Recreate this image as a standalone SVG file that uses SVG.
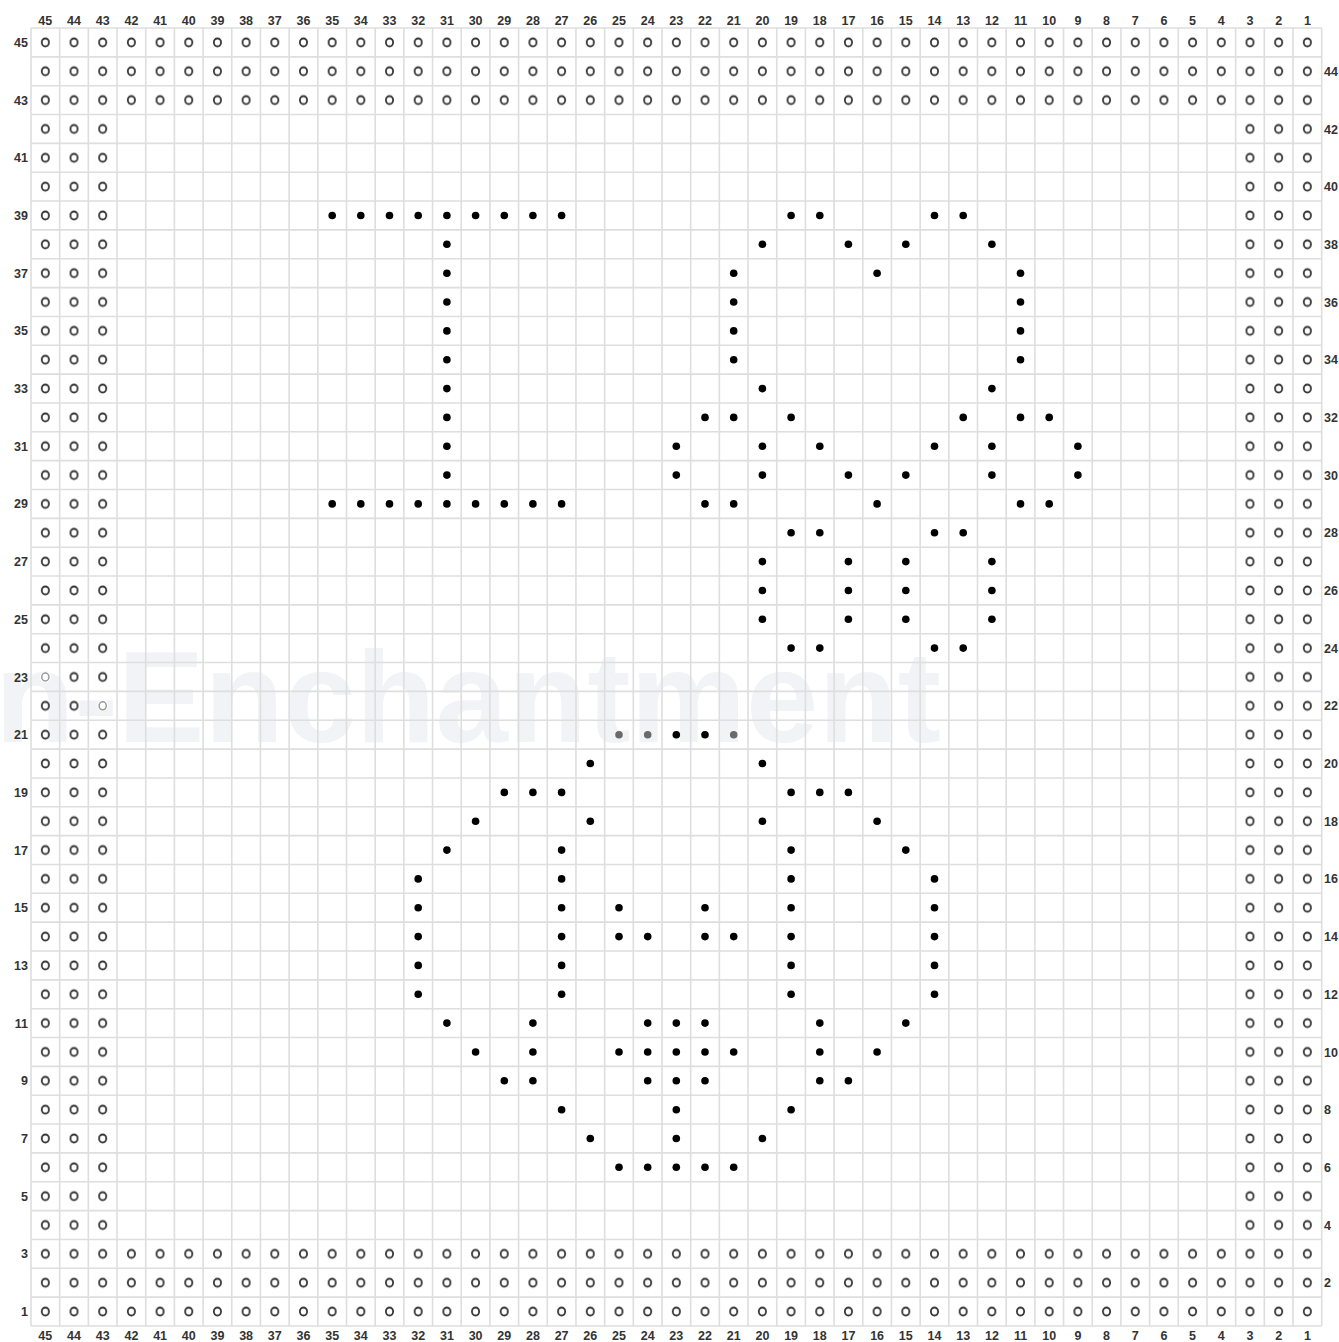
<svg xmlns="http://www.w3.org/2000/svg" xmlns:xlink="http://www.w3.org/1999/xlink" width="1339" height="1342" viewBox="0 0 1339 1342">
<style>
.lb{font-family:"Liberation Sans",Arial,sans-serif;font-size:12.5px;font-weight:bold;fill:#333}
.tc{text-anchor:middle}
.le{text-anchor:end}
.wm{font-family:"Liberation Sans",Arial,sans-serif;font-size:130px;font-weight:bold;fill:#f1f3f6}
.grid{fill:none;stroke:#dedede;stroke-width:1.6}
</style>
<defs>
<pattern id="oc" patternUnits="userSpaceOnUse" x="31" y="28" width="28.682" height="28.844">
<ellipse cx="14.341" cy="14.422" rx="3.6" ry="4" fill="none" stroke="#333" stroke-width="1.8"/>
</pattern>
<circle id="d" cx="0" cy="0" r="3.8" fill="#000"/>
<circle id="g" cx="0" cy="0" r="3.8" fill="#6a6a6a"/>
</defs>
<rect width="1339" height="1342" fill="#fff"/>
<text class="wm" x="-5" y="742">n-Enchantment</text>
<g id="grid">
<path class="grid" d="M31 28V1326M59.68 28V1326M88.36 28V1326M117.05 28V1326M145.73 28V1326M174.41 28V1326M203.09 28V1326M231.77 28V1326M260.46 28V1326M289.14 28V1326M317.82 28V1326M346.5 28V1326M375.18 28V1326M403.87 28V1326M432.55 28V1326M461.23 28V1326M489.91 28V1326M518.59 28V1326M547.28 28V1326M575.96 28V1326M604.64 28V1326M633.32 28V1326M662 28V1326M690.69 28V1326M719.37 28V1326M748.05 28V1326M776.73 28V1326M805.41 28V1326M834.1 28V1326M862.78 28V1326M891.46 28V1326M920.14 28V1326M948.82 28V1326M977.51 28V1326M1006.19 28V1326M1034.87 28V1326M1063.55 28V1326M1092.23 28V1326M1120.92 28V1326M1149.6 28V1326M1178.28 28V1326M1206.96 28V1326M1235.64 28V1326M1264.33 28V1326M1293.01 28V1326M1321.69 28V1326
M31 28H1321.69M31 56.84H1321.69M31 85.69H1321.69M31 114.53H1321.69M31 143.38H1321.69M31 172.22H1321.69M31 201.06H1321.69M31 229.91H1321.69M31 258.75H1321.69M31 287.6H1321.69M31 316.44H1321.69M31 345.28H1321.69M31 374.13H1321.69M31 402.97H1321.69M31 431.82H1321.69M31 460.66H1321.69M31 489.5H1321.69M31 518.35H1321.69M31 547.19H1321.69M31 576.04H1321.69M31 604.88H1321.69M31 633.72H1321.69M31 662.57H1321.69M31 691.41H1321.69M31 720.26H1321.69M31 749.1H1321.69M31 777.94H1321.69M31 806.79H1321.69M31 835.63H1321.69M31 864.48H1321.69M31 893.32H1321.69M31 922.16H1321.69M31 951.01H1321.69M31 979.85H1321.69M31 1008.7H1321.69M31 1037.54H1321.69M31 1066.38H1321.69M31 1095.23H1321.69M31 1124.07H1321.69M31 1152.92H1321.69M31 1181.76H1321.69M31 1210.6H1321.69M31 1239.45H1321.69M31 1268.29H1321.69M31 1297.14H1321.69M31 1325.98H1321.69"/>
</g>
<g id="border-stitches">
<rect x="31" y="28" width="1290.69" height="86.53" fill="url(#oc)"/>
<rect x="31" y="1239.45" width="1290.69" height="86.53" fill="url(#oc)"/>
<rect x="31" y="114.53" width="86.05" height="1124.92" fill="url(#oc)"/>
<rect x="1235.64" y="114.53" width="86.05" height="1124.92" fill="url(#oc)"/>
<ellipse cx="45.34" cy="676.99" rx="5.5" ry="6" fill="#fff"/>
<ellipse cx="45.34" cy="676.99" rx="3.6" ry="4" fill="none" stroke="#9a9a9a" stroke-width="1.5"/>
<ellipse cx="102.7" cy="705.83" rx="5.5" ry="6" fill="#fff"/>
<ellipse cx="102.7" cy="705.83" rx="3.6" ry="4" fill="none" stroke="#9a9a9a" stroke-width="1.5"/>
</g>
<g id="motif">
<use href="#d" x="332.2" y="215.5"/><use href="#d" x="360.8" y="215.5"/><use href="#d" x="389.5" y="215.5"/><use href="#d" x="418.2" y="215.5"/><use href="#d" x="446.9" y="215.5"/><use href="#d" x="475.6" y="215.5"/><use href="#d" x="504.3" y="215.5"/><use href="#d" x="532.9" y="215.5"/><use href="#d" x="561.6" y="215.5"/><use href="#d" x="791.1" y="215.5"/><use href="#d" x="819.8" y="215.5"/><use href="#d" x="934.5" y="215.5"/><use href="#d" x="963.2" y="215.5"/>
<use href="#d" x="446.9" y="244.3"/><use href="#d" x="762.4" y="244.3"/><use href="#d" x="848.4" y="244.3"/><use href="#d" x="905.8" y="244.3"/><use href="#d" x="991.9" y="244.3"/>
<use href="#d" x="446.9" y="273.2"/><use href="#d" x="733.7" y="273.2"/><use href="#d" x="877.1" y="273.2"/><use href="#d" x="1020.5" y="273.2"/>
<use href="#d" x="446.9" y="302"/><use href="#d" x="733.7" y="302"/><use href="#d" x="1020.5" y="302"/>
<use href="#d" x="446.9" y="330.9"/><use href="#d" x="733.7" y="330.9"/><use href="#d" x="1020.5" y="330.9"/>
<use href="#d" x="446.9" y="359.7"/><use href="#d" x="733.7" y="359.7"/><use href="#d" x="1020.5" y="359.7"/>
<use href="#d" x="446.9" y="388.6"/><use href="#d" x="762.4" y="388.6"/><use href="#d" x="991.9" y="388.6"/>
<use href="#d" x="446.9" y="417.4"/><use href="#d" x="705" y="417.4"/><use href="#d" x="733.7" y="417.4"/><use href="#d" x="791.1" y="417.4"/><use href="#d" x="963.2" y="417.4"/><use href="#d" x="1020.5" y="417.4"/><use href="#d" x="1049.2" y="417.4"/>
<use href="#d" x="446.9" y="446.2"/><use href="#d" x="676.3" y="446.2"/><use href="#d" x="762.4" y="446.2"/><use href="#d" x="819.8" y="446.2"/><use href="#d" x="934.5" y="446.2"/><use href="#d" x="991.9" y="446.2"/><use href="#d" x="1077.9" y="446.2"/>
<use href="#d" x="446.9" y="475.1"/><use href="#d" x="676.3" y="475.1"/><use href="#d" x="762.4" y="475.1"/><use href="#d" x="848.4" y="475.1"/><use href="#d" x="905.8" y="475.1"/><use href="#d" x="991.9" y="475.1"/><use href="#d" x="1077.9" y="475.1"/>
<use href="#d" x="332.2" y="503.9"/><use href="#d" x="360.8" y="503.9"/><use href="#d" x="389.5" y="503.9"/><use href="#d" x="418.2" y="503.9"/><use href="#d" x="446.9" y="503.9"/><use href="#d" x="475.6" y="503.9"/><use href="#d" x="504.3" y="503.9"/><use href="#d" x="532.9" y="503.9"/><use href="#d" x="561.6" y="503.9"/><use href="#d" x="705" y="503.9"/><use href="#d" x="733.7" y="503.9"/><use href="#d" x="877.1" y="503.9"/><use href="#d" x="1020.5" y="503.9"/><use href="#d" x="1049.2" y="503.9"/>
<use href="#d" x="791.1" y="532.8"/><use href="#d" x="819.8" y="532.8"/><use href="#d" x="934.5" y="532.8"/><use href="#d" x="963.2" y="532.8"/>
<use href="#d" x="762.4" y="561.6"/><use href="#d" x="848.4" y="561.6"/><use href="#d" x="905.8" y="561.6"/><use href="#d" x="991.9" y="561.6"/>
<use href="#d" x="762.4" y="590.5"/><use href="#d" x="848.4" y="590.5"/><use href="#d" x="905.8" y="590.5"/><use href="#d" x="991.9" y="590.5"/>
<use href="#d" x="762.4" y="619.3"/><use href="#d" x="848.4" y="619.3"/><use href="#d" x="905.8" y="619.3"/><use href="#d" x="991.9" y="619.3"/>
<use href="#d" x="791.1" y="648.1"/><use href="#d" x="819.8" y="648.1"/><use href="#d" x="934.5" y="648.1"/><use href="#d" x="963.2" y="648.1"/>
<use href="#g" x="619" y="734.7"/><use href="#g" x="647.7" y="734.7"/><use href="#d" x="676.3" y="734.7"/><use href="#d" x="705" y="734.7"/><use href="#g" x="733.7" y="734.7"/>
<use href="#d" x="590.3" y="763.5"/><use href="#d" x="762.4" y="763.5"/>
<use href="#d" x="504.3" y="792.4"/><use href="#d" x="532.9" y="792.4"/><use href="#d" x="561.6" y="792.4"/><use href="#d" x="791.1" y="792.4"/><use href="#d" x="819.8" y="792.4"/><use href="#d" x="848.4" y="792.4"/>
<use href="#d" x="475.6" y="821.2"/><use href="#d" x="590.3" y="821.2"/><use href="#d" x="762.4" y="821.2"/><use href="#d" x="877.1" y="821.2"/>
<use href="#d" x="446.9" y="850.1"/><use href="#d" x="561.6" y="850.1"/><use href="#d" x="791.1" y="850.1"/><use href="#d" x="905.8" y="850.1"/>
<use href="#d" x="418.2" y="878.9"/><use href="#d" x="561.6" y="878.9"/><use href="#d" x="791.1" y="878.9"/><use href="#d" x="934.5" y="878.9"/>
<use href="#d" x="418.2" y="907.7"/><use href="#d" x="561.6" y="907.7"/><use href="#d" x="619" y="907.7"/><use href="#d" x="705" y="907.7"/><use href="#d" x="791.1" y="907.7"/><use href="#d" x="934.5" y="907.7"/>
<use href="#d" x="418.2" y="936.6"/><use href="#d" x="561.6" y="936.6"/><use href="#d" x="619" y="936.6"/><use href="#d" x="647.7" y="936.6"/><use href="#d" x="705" y="936.6"/><use href="#d" x="733.7" y="936.6"/><use href="#d" x="791.1" y="936.6"/><use href="#d" x="934.5" y="936.6"/>
<use href="#d" x="418.2" y="965.4"/><use href="#d" x="561.6" y="965.4"/><use href="#d" x="791.1" y="965.4"/><use href="#d" x="934.5" y="965.4"/>
<use href="#d" x="418.2" y="994.3"/><use href="#d" x="561.6" y="994.3"/><use href="#d" x="791.1" y="994.3"/><use href="#d" x="934.5" y="994.3"/>
<use href="#d" x="446.9" y="1023.1"/><use href="#d" x="532.9" y="1023.1"/><use href="#d" x="647.7" y="1023.1"/><use href="#d" x="676.3" y="1023.1"/><use href="#d" x="705" y="1023.1"/><use href="#d" x="819.8" y="1023.1"/><use href="#d" x="905.8" y="1023.1"/>
<use href="#d" x="475.6" y="1052"/><use href="#d" x="532.9" y="1052"/><use href="#d" x="619" y="1052"/><use href="#d" x="647.7" y="1052"/><use href="#d" x="676.3" y="1052"/><use href="#d" x="705" y="1052"/><use href="#d" x="733.7" y="1052"/><use href="#d" x="819.8" y="1052"/><use href="#d" x="877.1" y="1052"/>
<use href="#d" x="504.3" y="1080.8"/><use href="#d" x="532.9" y="1080.8"/><use href="#d" x="647.7" y="1080.8"/><use href="#d" x="676.3" y="1080.8"/><use href="#d" x="705" y="1080.8"/><use href="#d" x="819.8" y="1080.8"/><use href="#d" x="848.4" y="1080.8"/>
<use href="#d" x="561.6" y="1109.7"/><use href="#d" x="676.3" y="1109.7"/><use href="#d" x="791.1" y="1109.7"/>
<use href="#d" x="590.3" y="1138.5"/><use href="#d" x="676.3" y="1138.5"/><use href="#d" x="762.4" y="1138.5"/>
<use href="#d" x="619" y="1167.3"/><use href="#d" x="647.7" y="1167.3"/><use href="#d" x="676.3" y="1167.3"/><use href="#d" x="705" y="1167.3"/><use href="#d" x="733.7" y="1167.3"/>
</g>
<g id="col-labels-top" class="lb tc">
<text x="45.3" y="25">45</text><text x="74" y="25">44</text><text x="102.7" y="25">43</text><text x="131.4" y="25">42</text><text x="160.1" y="25">41</text><text x="188.8" y="25">40</text><text x="217.4" y="25">39</text><text x="246.1" y="25">38</text><text x="274.8" y="25">37</text><text x="303.5" y="25">36</text><text x="332.2" y="25">35</text><text x="360.8" y="25">34</text><text x="389.5" y="25">33</text><text x="418.2" y="25">32</text><text x="446.9" y="25">31</text><text x="475.6" y="25">30</text><text x="504.3" y="25">29</text><text x="532.9" y="25">28</text><text x="561.6" y="25">27</text><text x="590.3" y="25">26</text><text x="619" y="25">25</text><text x="647.7" y="25">24</text><text x="676.3" y="25">23</text><text x="705" y="25">22</text><text x="733.7" y="25">21</text><text x="762.4" y="25">20</text><text x="791.1" y="25">19</text><text x="819.8" y="25">18</text><text x="848.4" y="25">17</text><text x="877.1" y="25">16</text><text x="905.8" y="25">15</text><text x="934.5" y="25">14</text><text x="963.2" y="25">13</text><text x="991.9" y="25">12</text><text x="1020.5" y="25">11</text><text x="1049.2" y="25">10</text><text x="1077.9" y="25">9</text><text x="1106.6" y="25">8</text><text x="1135.3" y="25">7</text><text x="1163.9" y="25">6</text><text x="1192.6" y="25">5</text><text x="1221.3" y="25">4</text><text x="1250" y="25">3</text><text x="1278.7" y="25">2</text><text x="1307.4" y="25">1</text>
</g>
<g id="col-labels-bottom" class="lb tc">
<text x="45.3" y="1340">45</text><text x="74" y="1340">44</text><text x="102.7" y="1340">43</text><text x="131.4" y="1340">42</text><text x="160.1" y="1340">41</text><text x="188.8" y="1340">40</text><text x="217.4" y="1340">39</text><text x="246.1" y="1340">38</text><text x="274.8" y="1340">37</text><text x="303.5" y="1340">36</text><text x="332.2" y="1340">35</text><text x="360.8" y="1340">34</text><text x="389.5" y="1340">33</text><text x="418.2" y="1340">32</text><text x="446.9" y="1340">31</text><text x="475.6" y="1340">30</text><text x="504.3" y="1340">29</text><text x="532.9" y="1340">28</text><text x="561.6" y="1340">27</text><text x="590.3" y="1340">26</text><text x="619" y="1340">25</text><text x="647.7" y="1340">24</text><text x="676.3" y="1340">23</text><text x="705" y="1340">22</text><text x="733.7" y="1340">21</text><text x="762.4" y="1340">20</text><text x="791.1" y="1340">19</text><text x="819.8" y="1340">18</text><text x="848.4" y="1340">17</text><text x="877.1" y="1340">16</text><text x="905.8" y="1340">15</text><text x="934.5" y="1340">14</text><text x="963.2" y="1340">13</text><text x="991.9" y="1340">12</text><text x="1020.5" y="1340">11</text><text x="1049.2" y="1340">10</text><text x="1077.9" y="1340">9</text><text x="1106.6" y="1340">8</text><text x="1135.3" y="1340">7</text><text x="1163.9" y="1340">6</text><text x="1192.6" y="1340">5</text><text x="1221.3" y="1340">4</text><text x="1250" y="1340">3</text><text x="1278.7" y="1340">2</text><text x="1307.4" y="1340">1</text>
</g>
<g id="row-labels-left" class="lb le">
<text x="28" y="46.9">45</text><text x="28" y="104.6">43</text><text x="28" y="162.3">41</text><text x="28" y="220">39</text><text x="28" y="277.7">37</text><text x="28" y="335.4">35</text><text x="28" y="393.1">33</text><text x="28" y="450.7">31</text><text x="28" y="508.4">29</text><text x="28" y="566.1">27</text><text x="28" y="623.8">25</text><text x="28" y="681.5">23</text><text x="28" y="739.2">21</text><text x="28" y="796.9">19</text><text x="28" y="854.6">17</text><text x="28" y="912.2">15</text><text x="28" y="969.9">13</text><text x="28" y="1027.6">11</text><text x="28" y="1085.3">9</text><text x="28" y="1143">7</text><text x="28" y="1200.7">5</text><text x="28" y="1258.4">3</text><text x="28" y="1316.1">1</text>
</g>
<g id="row-labels-right" class="lb">
<text x="1324" y="75.8">44</text><text x="1324" y="133.5">42</text><text x="1324" y="191.1">40</text><text x="1324" y="248.8">38</text><text x="1324" y="306.5">36</text><text x="1324" y="364.2">34</text><text x="1324" y="421.9">32</text><text x="1324" y="479.6">30</text><text x="1324" y="537.3">28</text><text x="1324" y="595">26</text><text x="1324" y="652.6">24</text><text x="1324" y="710.3">22</text><text x="1324" y="768">20</text><text x="1324" y="825.7">18</text><text x="1324" y="883.4">16</text><text x="1324" y="941.1">14</text><text x="1324" y="998.8">12</text><text x="1324" y="1056.5">10</text><text x="1324" y="1114.1">8</text><text x="1324" y="1171.8">6</text><text x="1324" y="1229.5">4</text><text x="1324" y="1287.2">2</text>
</g>
</svg>
